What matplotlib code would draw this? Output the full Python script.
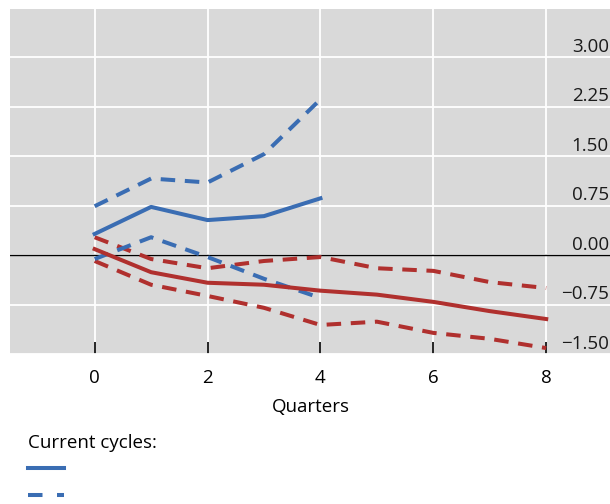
import matplotlib.pyplot as plt
from matplotlib.lines import Line2D
import matplotlib.transforms as mtransforms

plt.rcParams['font.family'] = ['Open Sans', 'DejaVu Sans']

# quarters after the start of the cycle
quarters_cur = [0, 1, 2, 3, 4]
quarters_past = [0, 1, 2, 3, 4, 5, 6, 7, 8]

# current cycles: median and range
cur_median = [0.32, 0.73, 0.53, 0.59, 0.86]
cur_upper = [0.74, 1.16, 1.10, 1.53, 2.36]
cur_lower = [-0.06, 0.27, -0.03, -0.36, -0.65]

# past cycles: median and range
past_median = [0.09, -0.26, -0.42, -0.45, -0.54, -0.60, -0.71, -0.85, -0.97]
past_upper = [0.27, -0.06, -0.20, -0.09, -0.03, -0.20, -0.24, -0.41, -0.50]
past_lower = [-0.09, -0.45, -0.62, -0.80, -1.06, -1.01, -1.18, -1.27, -1.41]

x_ticks = [0, 2, 4, 6, 8]
y_ticks = [-1.5, -0.75, 0.0, 0.75, 1.5, 2.25, 3.0]
y_labels = ['\u22121.50', '\u22120.75', '0.00', '0.75', '1.50', '2.25', '3.00']

blue = '#3a6db3'
red = '#b0302e'
dash = (0, (3.6, 2.4))
lw = 2.9
fs = 13.5

fig = plt.figure(figsize=(6.1, 5.04), dpi=100)
ax = fig.add_axes([10 / 610, 1 - 354 / 504, 600 / 610, 345 / 504])
ax.set_facecolor('#d9d9d9')

ax.plot(quarters_past, past_upper, color=red, lw=lw, linestyle=dash, zorder=3)
ax.plot(quarters_past, past_lower, color=red, lw=lw, linestyle=dash, zorder=3)
ax.plot(quarters_past, past_median, color=red, lw=lw, zorder=4)
ax.plot(quarters_cur, cur_upper, color=blue, lw=lw, linestyle=dash, zorder=3)
ax.plot(quarters_cur, cur_lower, color=blue, lw=lw, linestyle=dash, zorder=3)
ax.plot(quarters_cur, cur_median, color=blue, lw=lw, zorder=4)

ax.axhline(0, color='black', lw=1.0, zorder=2)

ax.set_xlim(-1.5, 9.13)
ax.set_ylim(-1.48, 3.73)
ax.set_xticks(x_ticks)
ax.set_yticks(y_ticks)
ax.set_yticklabels([])
ax.tick_params(axis='y', length=0)
ax.tick_params(axis='x', direction='in', length=9, width=1.2, color='black',
               labelsize=fs, pad=11)
ax.grid(True, color='white', lw=1.3, zorder=1)
ax.set_axisbelow(True)
for s in ax.spines.values():
    s.set_visible(False)

# value labels sit just above their gridlines at the right edge
trans = mtransforms.blended_transform_factory(ax.transAxes, ax.transData)
offset = mtransforms.ScaledTranslation(0, 1 / 72, fig.dpi_scale_trans)
for v, lab in zip(y_ticks, y_labels):
    ax.text(0.998, v, lab, transform=trans + offset, ha='right', va='bottom',
            fontsize=fs, color='#1a1a1a', zorder=5)

fig.text(0.51, 1 - 407 / 504, 'Quarters', ha='center', va='center', fontsize=fs)
fig.text(28 / 610, 1 - 443 / 504, 'Current cycles:', ha='left', va='center', fontsize=fs)

fig.add_artist(Line2D([28 / 610, 64 / 610], [1 - 468 / 504] * 2, color=blue, lw=lw))
fig.add_artist(Line2D([28 / 610, 64 / 610], [1 - 495 / 504] * 2, color=blue, lw=lw,
                      linestyle=(0, (3.6, 3.6))))

fig.savefig('out.png', dpi=100)
